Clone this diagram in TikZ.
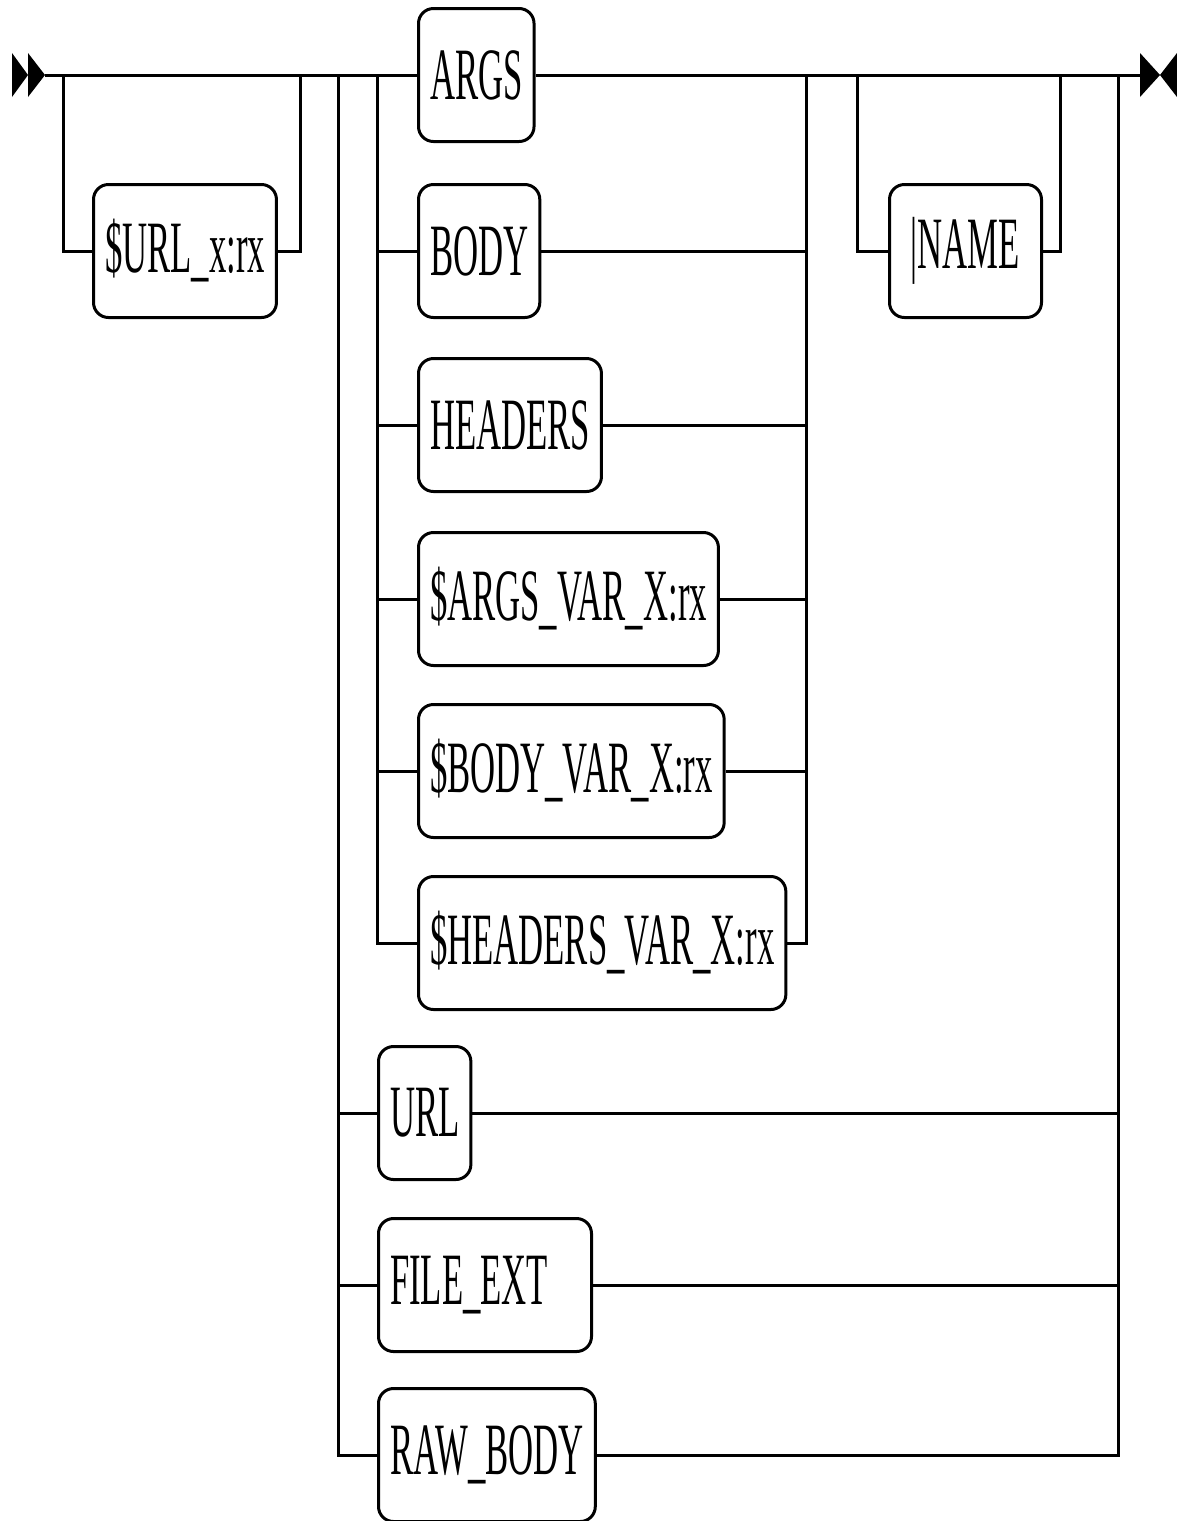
\documentclass[tikz,border=0pt]{standalone}
\usepackage{fontspec}
\newfontfamily\railfont[FakeStretch=0.47]{Liberation Serif}
\usetikzlibrary{calc, positioning}

\tikzset{
  railbox/.style={draw, fill=white, rounded corners=3mm, line width=0.6mm,
    minimum height=26.6mm, inner xsep=2.3mm, anchor=west,
    font=\railfont\fontsize{42}{48}\selectfont},
  widebox/.style={text width=38mm, align=left},
  plainbox/.style={},
  rail/.style={line width=0.6mm},
}

\begin{document}
\begin{tikzpicture}[x=0.2mm, y=-0.2mm]
\useasboundingbox (0,0) rectangle (1177,1521);
\def\ymain{75}
\def\xin{377}
\def\xout{806}
\def\xoin{338}
\def\xoout{1118}

% start and end of the rail
\coordinate (start) at (45,\ymain);
\coordinate (end) at (1140,\ymain);
\fill (12,53) -- (28,\ymain) -- (12,97) -- cycle;
\fill (28,53) -- (45,\ymain) -- (28,97) -- cycle;
\fill (1140,53) -- (1160,\ymain) -- (1140,97) -- cycle;
\fill (1177,53) -- (1160,\ymain) -- (1177,97) -- cycle;

% junctions on the main line
\coordinate (urlin) at (63,\ymain);
\coordinate (urlout) at (300,\ymain);
\coordinate (oin) at (\xoin,\ymain);
\coordinate (iin) at (\xin,\ymain);
\coordinate (iout) at (\xout,\ymain);
\coordinate (nin) at (857,\ymain);
\coordinate (nout) at (1060,\ymain);
\coordinate (oout) at (\xoout,\ymain);

% optional $URL_x:rx
\node[railbox] (urlx) at (92,251) {\$URL\_x:rx};
\draw[rail] (urlin) |- (urlx.west);
\draw[rail] (urlx.east) -| (urlout);

% inner choice
\node[railbox] (args) at (417,\ymain) {ARGS};
\draw[rail] (start) -- (args.west);
\draw[rail] (args.east) -- (end);
\foreach \name/\txt/\y in {body/BODY/251, headers/HEADERS/425,
    argsvar/\$ARGS\_VAR\_X:rx/599, bodyvar/\$BODY\_VAR\_X:rx/771,
    headersvar/\$HEADERS\_VAR\_X:rx/943} {
  \node[railbox] (\name) at (417,\y) {\txt};
  \draw[rail] (iin) |- (\name.west);
  \draw[rail] (\name.east) -| (iout);
}

% outer choice
\foreach \name/\txt/\y/\kind in {url/URL/1113/plainbox,
    fileext/FILE\_EXT/1285/widebox, rawbody/RAW\_BODY/1455/plainbox} {
  \node[railbox, \kind] (\name) at (\xin,\y) {\txt};
  \draw[rail] (oin) |- (\name.west);
  \draw[rail] (\name.east) -| (oout);
}

% optional |NAME
\node[railbox, minimum width=30.4mm] (name) at (888,251) {|NAME};
\draw[rail] (nin) |- (name.west);
\draw[rail] (name.east) -| (nout);
\end{tikzpicture}
\end{document}
